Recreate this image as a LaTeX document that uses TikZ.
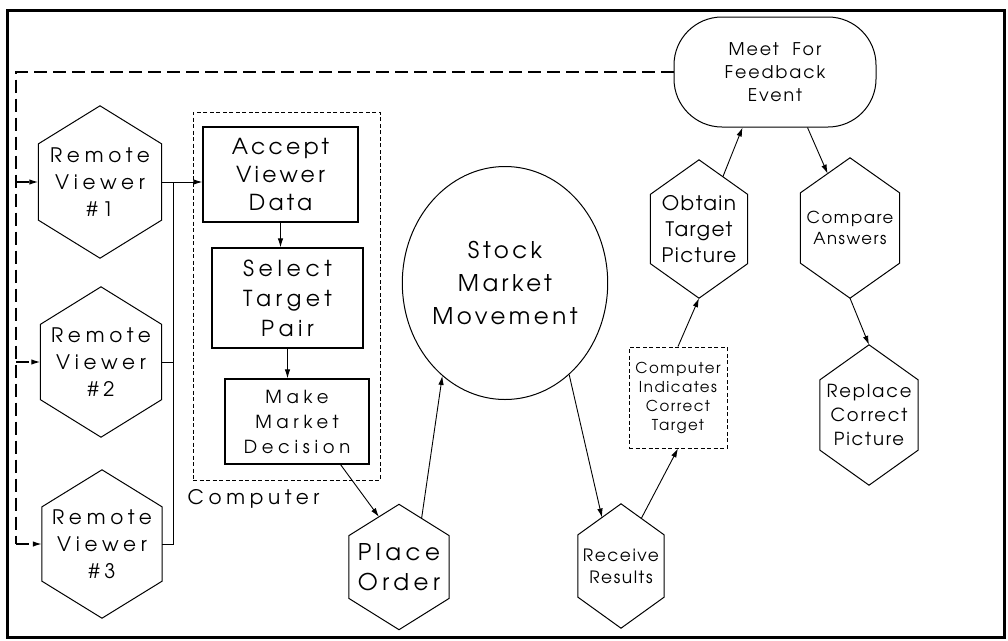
\documentclass[tikz,border=0pt]{standalone}
\usepackage{fontspec}
\setmainfont{texgyreadventor-regular.otf}
\usetikzlibrary{calc,arrows.meta,shapes.geometric}

% size, line pitch and letter spacing of a label
\newcommand\fsl[3]{\fontsize{#1}{#2}\selectfont\addfontfeature{LetterSpace=#3}}
% hexagon outline drawn over a rectangular node, with named corners
\newcommand\hexoutline[1]{%
  \draw[shapeline] (#1.north) coordinate (#1-n)
    -- ($(#1.north east)!0.25!(#1.south east)$) coordinate (#1-ne)
    -- ($(#1.north east)!0.75!(#1.south east)$) coordinate (#1-se)
    -- (#1.south) coordinate (#1-s)
    -- ($(#1.north west)!0.75!(#1.south west)$) coordinate (#1-sw)
    -- ($(#1.north west)!0.25!(#1.south west)$) coordinate (#1-nw)
    -- cycle;}

\begin{document}
\begin{tikzpicture}[x=1pt,y=-1pt,
  >={Latex[length=9pt,width=5.5pt]},
  shapeline/.style={line width=1pt},
  conn/.style={line width=0.9pt,->},
  wire/.style={line width=0.9pt},
  hexnode/.style={inner sep=0pt, align=center},
  boxnode/.style={draw, line width=1.3pt, inner sep=0pt, align=center},
  feedback/.style={line width=1.3pt, dash pattern=on 13pt off 6pt},
  finedash/.style={line width=1pt, dash pattern=on 4pt off 2.5pt}]

\useasboundingbox (0,0) rectangle (1008,640);
\draw[line width=3pt] (7,10) rectangle (1004,637);

% remote viewers
\node[hexnode, minimum width=123pt, minimum height=152pt, font=\fsl{20}{27}{24}] (rv1) at (100,182) {Remote\\Viewer\\\#1};
\node[hexnode, minimum width=121pt, minimum height=150pt, font=\fsl{20}{27}{24}] (rv2) at (101,362) {Remote\\Viewer\\\#2};
\node[hexnode, minimum width=120pt, minimum height=148pt, font=\fsl{20}{27}{24}] (rv3) at (102,544) {Remote\\Viewer\\\#3};

% computer steps
\node[draw, finedash, minimum width=187pt, minimum height=368pt] (compbox) at (286.5,296) {};
\node[font=\fsl{20}{22}{23}, anchor=west, inner sep=0pt] (complabel) at ($(compbox.south west)+(-5,18)$) {Computer};
\node[boxnode, minimum width=155pt, minimum height=95pt, font=\fsl{22}{28}{15}] (accept) at (280.5,174.5) {Accept\\Viewer\\Data};
\node[boxnode, minimum width=151pt, minimum height=100pt, font=\fsl{22}{30}{21}] (select) at (287.5,298) {Select\\Target\\Pair};
\node[boxnode, minimum width=144pt, minimum height=85pt, font=\fsl{18}{25}{26}] (make) at (297,421.5) {Make\\Market\\Decision};

% market
\node[hexnode, minimum width=100pt, minimum height=125pt, font=\fsl{23}{30}{20}] (place) at (399,567) {Place\\Order};
\node[draw, ellipse, line width=1pt, inner sep=0pt, minimum width=184pt, minimum height=233pt, align=center, font=\fsl{23}{33}{15}] (stock) at (505,283) {Stock\\Market\\Movement};
\node[hexnode, minimum width=86pt, minimum height=124pt, font=\fsl{17}{22}{9}] (receive) at (621,566) {Receive\\Results};
\node[draw, finedash, inner sep=0pt, minimum width=98pt, minimum height=101pt, align=center, font=\fsl{15}{19}{10}] (compind) at (678,397.5) {Computer\\Indicates\\Correct\\Target};

% feedback
\node[hexnode, minimum width=97pt, minimum height=138pt, font=\fsl{20}{26}{7}] (obtain) at (699,229) {Obtain\\Target\\Picture};
\node[boxnode, line width=1pt, rounded corners=48pt, minimum width=202pt, minimum height=110pt, font=\fsl{17.5}{23}{11}] (meet) at (775,72) {Meet\ \ For\\Feedback\\Event};
\node[hexnode, minimum width=99pt, minimum height=140pt, font=\fsl{16.5}{21}{9}] (compare) at (850,228) {Compare\\Answers};
\node[hexnode, minimum width=98pt, minimum height=140pt, font=\fsl{18}{24}{10}] (replace) at (869,415) {Replace\\Correct\\Picture};

\foreach \h in {rv1,rv2,rv3,place,receive,obtain,compare,replace}
  \hexoutline{\h};

% dashed feedback loop back to the viewers
\coordinate (fbx) at (16,0);
\draw[feedback] (meet.west) -| (fbx |- rv3.west);
\draw[feedback,->] (fbx |- rv3.west) -- (rv3.west);
\draw[feedback,->] (fbx |- rv1.west) -- (rv1.west);
\draw[feedback,->] (fbx |- rv2.west) -- (rv2.west);

% viewer data into the computer
\coordinate (bus) at (173,0);
\draw[conn] (rv1.east) -- (rv1.east -| accept.west);
\draw[wire] (rv2.east) -- (bus |- rv2.east);
\draw[wire] (rv3.east) -- (bus |- rv3.east) -- (bus |- rv1.east);
\draw[conn] (accept.south) -- (accept.south |- select.north);
\draw[conn] (select.south) -- (select.south |- make.north);

% flow through the market and back
\draw[conn] ($(make.south west)!0.8!(make.south east)$) -- ($(place-n)!0.4!(place-nw)$);
\draw[conn] ($(place-n)!0.45!(place-ne)$) -- (stock.236);
\draw[conn] (stock.305) -- ($(receive-n)!0.44!(receive-nw)$);
\draw[conn] ($(receive-n)!0.47!(receive-ne)$) -- (compind.south);
\draw[conn] (compind.north) -- (obtain.south);
\draw[conn] ($(obtain-n)!0.49!(obtain-ne)$) -- ($(meet.south west)!0.34!(meet.south east)$);
\draw[conn] ($(meet.south west)!0.66!(meet.south east)$) -- ($(compare-n)!0.45!(compare-nw)$);
\draw[conn] (compare.south) -- (replace.north);
\end{tikzpicture}
\end{document}
